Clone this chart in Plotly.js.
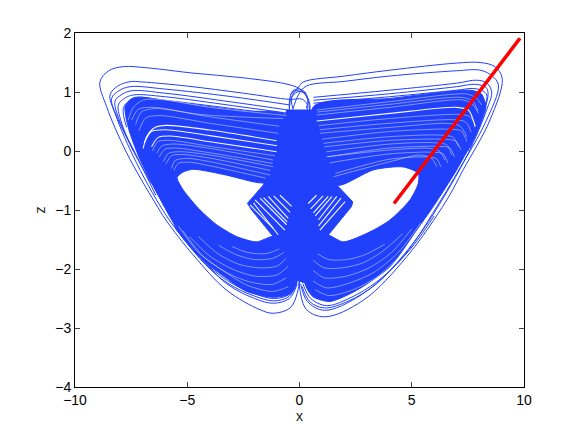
<!DOCTYPE html>
<html>
<head>
<meta charset="utf-8">
<script src="https://cdn.plot.ly/plotly-3.0.1.min.js"></script>
<style>body{margin:0;background:#fff}</style>
</head>
<body>
<div id="chart" style="width:579px;height:435px"></div>
<script>
const blue = '#2140fb';

// dense parts of the attractor
const leftBandX = [-0.57,-2.5,-5,-7.1,-7.5,-7.77,-7.72,-7.55,-7.1,-6.51,-5.69,-5.18,-4.28,-3.24,-2.35,-1.17,-0.42,-0.1,-0.9,-1.17,-1.91,-2.8,-3.69,-4.43,-5.18,-5.45,-5.2,-4.73,-3.24,-1.76,-0.9];
const leftBandZ = [0.6,0.68,0.8,0.91,0.88,0.75,0.55,0.3,-0.15,-0.6,-1.17,-1.48,-1.86,-2.16,-2.38,-2.48,-2.42,-2.19,-1.6,-1.45,-1.54,-1.45,-1.25,-1,-0.66,-0.45,-0.36,-0.31,-0.41,-0.54,-0.5];
const rightBandX = [0.62,4,7.6,8.1,8.3,8.15,7.89,7,5.96,5.22,4.03,2.55,1.36,0.6,0.25,0.9,1.21,1.95,3.14,4.03,4.92,5.29,5.29,4.62,3.29,1.8,1];
const rightBandZ = [0.75,0.89,1.03,0.97,0.75,0.55,0.3,-0.32,-0.94,-1.34,-1.96,-2.36,-2.55,-2.47,-2.24,-1.6,-1.42,-1.54,-1.37,-1.17,-0.83,-0.55,-0.38,-0.27,-0.32,-0.58,-0.5];
const coreX = [-0.57,0.62,0.84,1.14,1.66,2.37,2.32,1.21,0.9,0.25,-0.1,-0.9,-1.17,-2.13,-2.32,-1.61,-0.94,-0.65];
const coreZ = [0.695,0.695,0.3,-0.1,-0.576,-0.86,-0.94,-1.45,-1.6,-2.24,-2.19,-1.6,-1.45,-1,-0.887,-0.576,0.073,0.58];

// single trajectory loops that stand clear of the dense parts
const strandsX = [
  [0.35,0.47,0.42,0.1,-0.42,-2.5,-4.74,-6.8,-7.85,-8.5,-8.89,-8.59,-7.7,-6.43,-5.95,-4.74,-3.24,-1.76,-1.17,-0.42,-0.1,0],
  [0.3,0.36,0.1,-0.42,-2.5,-5,-7,-7.55,-8.1,-8.44,-8.22,-7.25,-5.8,-4.6,-3.24,-2,-1.17,-0.45,-0.1],
  [-0.42,-3,-6,-7.55,-8.05,-8.37,-8.1,-7.3,-6.4],
  [-0.42,-3,-6,-7.5,-7.95,-8.22,-8,-7.4,-6.6],
  [-0.5,-3,-6,-7.4,-7.8,-8.07,-7.9,-7.4],
  [-0.55,-3,-6,-7.3,-7.6,-7.85,-7.7],
  [-5.5,-4.2,-3.2,-2,-1.1,-0.45,-0.12],
  [-5.6,-4.4,-3.2,-2,-1.1,-0.42,-0.1],
  [-0.45,-0.38,-0.05,0.17,2,4.03,7,8.04,8.7,9.03,8.49,7.29,6.56,4.78,2.84,1.14,0.32,0.02,0],
  [-0.3,-0.05,0.3,2,4,7,8.04,8.55,8.86,8.3,7.1,6.3,4.6,2.7,1.1,0.35,0.05],
  [0.62,4,7,7.9,8.35,8.56,8.34,7.5,6.4],
  [0.62,4,7,7.74,8.15,8.34,8.2,7.5],
  [0.62,4,7,7.8,8.3,8.4,8.25,7.6],
  [-0.42,-0.45,-0.3,0,0.3],
  [0.45,0.42,0.2,-0.2,-0.4],
  [-0.3,-0.35,-0.1,0.2,0.38,0.3],
  [6,4.9,3.5,2.2,1.2,0.5,0.15],
  [6.4,5.6,4.6,3.4,2.2,1.1,0.45,0.12]
];
const strandsZ = [
  [0.55,0.72,0.85,1.03,1.12,1.24,1.32,1.41,1.43,1.36,1.17,0.75,-0.03,-0.88,-1.17,-1.76,-2.36,-2.69,-2.75,-2.66,-2.41,-2.13],
  [0.62,0.78,0.88,0.875,0.98,1.1,1.17,1.175,1.1,0.95,0.64,-0.21,-1.17,-1.72,-2.25,-2.5,-2.58,-2.5,-2.25],
  [0.78,0.92,1.05,1.09,1.02,0.89,0.55,-0.05,-0.75],
  [0.69,0.83,0.98,1.02,0.95,0.84,0.5,0,-0.55],
  [0.64,0.77,0.92,0.95,0.89,0.78,0.45,0],
  [0.6,0.72,0.86,0.91,0.85,0.72,0.4],
  [-1.33,-1.92,-2.24,-2.46,-2.54,-2.46,-2.22],
  [-1.25,-1.82,-2.2,-2.42,-2.5,-2.42,-2.18],
  [0.72,0.9,1.08,1.17,1.27,1.37,1.49,1.5,1.43,1.23,0.53,-0.32,-0.83,-1.79,-2.53,-2.81,-2.69,-2.36,-2.13],
  [0.7,0.95,1.1,1.18,1.27,1.36,1.37,1.28,1.12,0.5,-0.32,-0.83,-1.8,-2.45,-2.7,-2.55,-2.25],
  [0.91,1.03,1.15,1.2,1.15,1,0.7,-0.05,-0.8],
  [0.81,0.92,1.03,1.06,1.02,0.95,0.7,0],
  [0.86,0.97,1.09,1.13,1.08,0.98,0.7,0.05],
  [0.6,0.85,1.02,1.05,0.98],
  [0.6,0.8,0.98,1.02,0.95],
  [0.72,0.9,1,1,0.88,0.72],
  [-1.1,-1.68,-2.2,-2.5,-2.62,-2.5,-2.25],
  [-0.8,-1.28,-1.78,-2.26,-2.54,-2.66,-2.55,-2.3]
];

// pale streaks where the loops leave a gap: wings and lower arcs
const gapsX = [
  [-0.57,-3.99,-6.22,-6.96,-7.4,-7.63],
  [-0.72,-4.43,-6.51,-7.18,-7.48],
  [-1.17,-3.99,-5.62,-6.14,-6.36],
  [-1.17,-3.99,-5.32,-5.84,-6.07],
  [-1.31,-3.99,-5.03,-5.55,-5.7],
  [-0.9,-4,-6.4,-7.05,-7.3],
  [-0.95,-4,-6.2,-6.85,-7.15],
  [-1.1,-4,-5.75,-6.3,-6.55],
  [-1.2,-4,-5.5,-6,-6.25],
  [-1.3,-4,-5.2,-5.7,-5.95],
  [-1.5,-4,-4.9,-5.4,-5.6],
  [0.765,4.03,7.45,7.89,8.12],
  [0.765,4.03,7.3,7.74,7.97],
  [0.91,4.03,6.56,7.15,7.45],
  [1.06,4.03,6.26,6.85,7.08],
  [1.21,4.03,5.96,6.56,6.78],
  [1.21,4.03,5.81,6.26,6.48],
  [1.51,4.03,5.37,5.89,6.11],
  [0.8,4,7.2,7.7,7.95],
  [0.85,4,7.1,7.6,7.85],
  [0.9,4,6.9,7.4,7.65],
  [1,4,6.6,7.2,7.45],
  [1.1,4,6.4,6.95,7.2],
  [1.25,4,6.1,6.7,6.9],
  [1.35,4,5.9,6.4,6.6],
  [1.6,4,5.6,6.1,6.3],
  [-5.2,-4.3,-3.2,-2.2,-1.2,-0.6],
  [-4.9,-4,-3,-2,-1,-0.5],
  [-4.5,-3.6,-2.7,-1.8,-1,-0.6],
  [-3.6,-2.8,-2,-1.2,-0.7],
  [-3,-2.3,-1.5,-0.9],
  [-5.4,-4.5,-3.4,-2.3,-1.2,-0.5],
  [5.4,4.4,3.3,2.2,1.2,0.6],
  [5,4.1,3.1,2.1,1.1,0.6],
  [4.6,3.7,2.8,1.9,1.1,0.6],
  [3.8,2.9,2.1,1.3,0.8],
  [5.7,4.6,3.5,2.4,1.3,0.7]
];
const gapsZ = [
  [0.6,0.74,0.875,0.864,0.74,0.525],
  [0.55,0.62,0.74,0.706,0.525],
  [-0.153,0.045,0.118,0.084,-0.04],
  [-0.266,-0.068,-0.012,-0.04,-0.181],
  [-0.407,-0.181,-0.125,-0.164,-0.294],
  [0.42,0.58,0.72,0.66,0.45],
  [0.3,0.47,0.6,0.56,0.34],
  [-0.08,0.08,0.18,0.16,0],
  [-0.21,-0.03,0.05,0.03,-0.1],
  [-0.33,-0.12,-0.06,-0.08,-0.22],
  [-0.46,-0.25,-0.19,-0.21,-0.33],
  [0.694,0.836,0.966,0.892,0.779],
  [0.61,0.74,0.864,0.779,0.638],
  [0.3,0.4,0.468,0.423,0.243],
  [0.13,0.243,0.27,0.231,0.073],
  [-0.012,0.118,0.141,0.101,-0.068],
  [-0.097,0.017,0.045,-0.012,-0.153],
  [-0.436,-0.181,-0.068,-0.125,-0.266],
  [0.66,0.79,0.91,0.85,0.68],
  [0.43,0.55,0.62,0.58,0.42],
  [0.36,0.47,0.53,0.49,0.32],
  [0.2,0.33,0.37,0.34,0.16],
  [0.07,0.18,0.2,0.17,0.02],
  [-0.1,0.05,0.08,0.05,-0.1],
  [-0.2,-0.05,-0.02,-0.05,-0.2],
  [-0.38,-0.14,-0.1,-0.13,-0.27],
  [-1.35,-1.78,-2.07,-2.22,-2.26,-2.15],
  [-1.45,-1.78,-2,-2.12,-2.1,-1.95],
  [-1.45,-1.75,-1.92,-1.98,-1.95,-1.82],
  [-1.6,-1.76,-1.84,-1.82,-1.72],
  [-1.62,-1.72,-1.74,-1.66],
  [-1.27,-1.72,-2.03,-2.28,-2.38,-2.3],
  [-1.22,-1.72,-2.06,-2.24,-2.32,-2.2],
  [-1.32,-1.72,-1.98,-2.12,-2.15,-2.02],
  [-1.4,-1.7,-1.9,-1.98,-1.98,-1.85],
  [-1.58,-1.76,-1.84,-1.84,-1.74],
  [-1.12,-1.72,-2.12,-2.35,-2.45,-2.35]
];

// the clean white streaks: strongest wing gaps and the two diamonds
const streaksX = [
  [-1.02,-3.99,-5.92,-6.44,-6.81,-6.96],
  [-1.02,-3.99,-5.77,-6.29,-6.59],
  [-1,-4,-6,-6.6,-6.9],
  [0.765,4.03,7,7.52,7.74,7.82],
  [-1.98,-0.65],[-1.76,-0.57],[-1.39,-0.5],[-0.87,-0.35],[-2.2,-1.17],
  [-2.05,-0.95],[-1.6,-0.55],[-1.15,-0.42],
  [2.03,0.91],[1.66,0.84],[1.28,0.62],[0.76,0.39],
  [1.85,0.85],[1.45,0.7],[1.05,0.5]
];
const streaksZ = [
  [0.175,0.355,0.435,0.4,0.243,0.045],
  [-0.012,0.158,0.254,0.231,0.073],
  [0.09,0.26,0.36,0.33,0.15],
  [0.508,0.638,0.74,0.694,0.525,0.412],
  [-0.83,-1.34],[-0.8,-1.25],[-0.77,-1.14],[-0.75,-0.94],[-0.915,-1.31],
  [-0.88,-1.42],[-0.79,-1.2],[-0.76,-1.04],
  [-0.86,-1.34],[-0.77,-1.17],[-0.77,-1.05],[-0.75,-0.89],
  [-0.8,-1.27],[-0.77,-1.1],[-0.76,-0.98]
];

const redX = [4.21,5.6,7,8.4,9.82];
const redZ = [-0.89,-0.2,0.5,1.2,1.91];

const xTicks = [-10,-5,0,5,10];
const zTicks = [-4,-3,-2,-1,0,1,2];

const data = [];
[[leftBandX,leftBandZ,'spline'],[rightBandX,rightBandZ,'spline'],[coreX,coreZ,'linear']].forEach(p => {
  data.push({x:p[0].concat(p[0][0]), y:p[1].concat(p[1][0]), mode:'lines', fill:'toself',
    fillcolor:blue, line:{color:blue,width:1,shape:p[2],smoothing:0.7}, hoverinfo:'skip'});
});
strandsX.forEach((sx,i) => {
  data.push({x:sx, y:strandsZ[i], mode:'lines', line:{color:blue,width:1,shape:'spline',smoothing:1}, hoverinfo:'skip'});
});
gapsX.forEach((gx,i) => {
  data.push({x:gx, y:gapsZ[i], mode:'lines', line:{color:'rgba(255,255,255,0.55)',width:0.8,shape:'spline',smoothing:0.8}, hoverinfo:'skip'});
});
streaksX.forEach((gx,i) => {
  data.push({x:gx, y:streaksZ[i], mode:'lines', line:{color:'rgba(255,255,255,0.95)',width:1.1,shape:'spline',smoothing:0.8}, hoverinfo:'skip'});
});
data.push({x:redX, y:redZ, mode:'lines', line:{color:'#ff0000',width:3.5}, hoverinfo:'skip'});

const axisStyle = {
  showgrid:false, zeroline:false, showline:true, mirror:'ticks', linecolor:'#000', linewidth:1,
  ticks:'inside', ticklen:5, tickcolor:'#444', tickwidth:1,
  tickfont:{family:'Liberation Sans, Arial, sans-serif',size:14,color:'#000'}
};
const titleFont = {family:'Liberation Sans, Arial, sans-serif',size:14,color:'#222'};

const layout = {
  width:579, height:435, showlegend:false,
  margin:{l:75,r:55,t:33,b:48},
  paper_bgcolor:'#fff', plot_bgcolor:'#fff',
  xaxis:Object.assign({}, axisStyle, {range:[-10,10], tickvals:xTicks, title:{text:'x',font:titleFont,standoff:4}}),
  yaxis:Object.assign({}, axisStyle, {range:[-4,2], tickvals:zTicks, title:{text:'z',font:titleFont,standoff:6}})
};

Plotly.newPlot('chart', data, layout, {staticPlot:true});
</script>
</body>
</html>
